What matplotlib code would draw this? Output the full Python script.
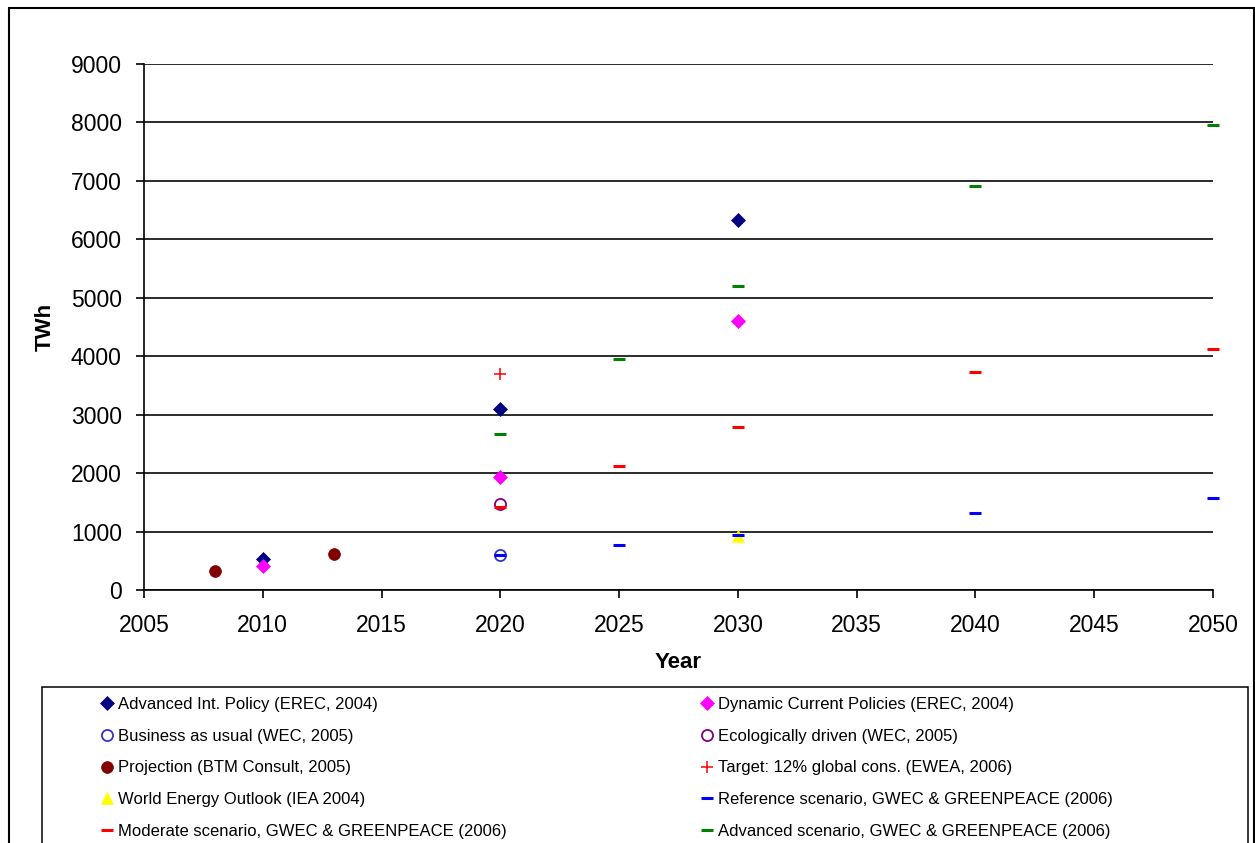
import matplotlib
matplotlib.use("Agg")
import matplotlib.pyplot as plt
from matplotlib.patches import Rectangle

plt.rcParams['font.family'] = ['Liberation Sans', 'DejaVu Sans']

# Wind electricity projections (TWh) by source
adv_int_years = [2010, 2020, 2030]
adv_int_vals = [530, 3100, 6330]

dyn_cur_years = [2010, 2020, 2030]
dyn_cur_vals = [410, 1930, 4600]

bau_years = [2020]
bau_vals = [600]

eco_years = [2020]
eco_vals = [1470]

btm_years = [2008, 2013]
btm_vals = [325, 615]

ewea_years = [2020]
ewea_vals = [3700]

weo_years = [2030]
weo_vals = [925]

ref_years = [2020, 2025, 2030, 2040, 2050]
ref_vals = [600, 770, 940, 1320, 1575]

mod_years = [2020, 2025, 2030, 2040, 2050]
mod_vals = [1420, 2120, 2790, 3730, 4125]

advsc_years = [2020, 2025, 2030, 2040, 2050]
advsc_vals = [2670, 3950, 5200, 6910, 7960]

x_ticks = list(range(2005, 2051, 5))
y_ticks = list(range(0, 9001, 1000))

series = [
    ("Advanced Int. Policy (EREC, 2004)", adv_int_years, adv_int_vals,
     dict(marker='D', ms=7, mfc='#000080', mec='#000080', mew=0.5)),
    ("Dynamic Current Policies (EREC, 2004)", dyn_cur_years, dyn_cur_vals,
     dict(marker='D', ms=7, mfc='#FF00FF', mec='#FF00FF', mew=0.5)),
    ("Business as usual (WEC, 2005)", bau_years, bau_vals,
     dict(marker='o', ms=8, mfc='none', mec='#3333CC', mew=1.3)),
    ("Ecologically driven (WEC, 2005)", eco_years, eco_vals,
     dict(marker='o', ms=8, mfc='none', mec='#800080', mew=1.3)),
    ("Projection (BTM Consult, 2005)", btm_years, btm_vals,
     dict(marker='o', ms=8.5, mfc='#800000', mec='#800000', mew=0.5)),
    ("Target: 12% global cons. (EWEA, 2006)", ewea_years, ewea_vals,
     dict(marker='+', ms=8, mfc='#FF0000', mec='#FF0000', mew=1.1)),
    ("World Energy Outlook (IEA 2004)", weo_years, weo_vals,
     dict(marker='^', ms=8, mfc='#FFFF00', mec='#FFFF00', mew=0.5)),
    ("Reference scenario, GWEC & GREENPEACE (2006)", ref_years, ref_vals,
     dict(marker='_', ms=8, mfc='#0000FF', mec='#0000FF', mew=2.2)),
    ("Moderate scenario, GWEC & GREENPEACE (2006)", mod_years, mod_vals,
     dict(marker='_', ms=8, mfc='#FF0000', mec='#FF0000', mew=2.2)),
    ("Advanced scenario, GWEC & GREENPEACE (2006)", advsc_years, advsc_vals,
     dict(marker='_', ms=8, mfc='#008000', mec='#008000', mew=2.2)),
]

W, H = 1255, 843
fig = plt.figure(figsize=(W / 100, H / 100), dpi=100)
ax = fig.add_axes([144 / W, 1 - 590 / H, (1213 - 144) / W, (590 - 64) / H])

handles = []
for i, (label, xs, ys, st) in enumerate(series):
    ln, = ax.plot(xs, ys, linestyle='none', label=label, clip_on=False,
                  zorder=3 + i, **st)
    handles.append(ln)

ax.set_xlim(2005, 2050)
ax.set_ylim(0, 9000)
ax.set_xticks(x_ticks)
ax.set_yticks(y_ticks)
ax.yaxis.grid(True, color='#1a1a1a', linewidth=1.3)
ax.set_axisbelow(True)
for s in ('top', 'right'):
    ax.spines[s].set_visible(False)
for s in ('left', 'bottom'):
    ax.spines[s].set_linewidth(1.2)
ax.tick_params(axis='both', direction='out', length=6, width=1.2,
               labelsize=16.5)
ax.tick_params(axis='x', pad=11)
ax.tick_params(axis='y', pad=10)

ax.set_xlabel("Year", fontsize=16, fontweight='bold')
ax.xaxis.label.set_va('center')
ax.xaxis.set_label_coords(0.5, (590 - 663) / 526)
ax.set_ylabel("TWh", fontsize=16, fontweight='bold')
ax.yaxis.label.set_va('center')
ax.yaxis.set_label_coords((45 - 144) / 1069, 0.5)

# Outer chart border and legend frame
fig.patches.append(Rectangle((8.5 / W, -0.05), (1254 - 8.5) / W, 1.05 - 8.5 / H,
                             transform=fig.transFigure, fill=False,
                             edgecolor='black', linewidth=1.5))
fig.patches.append(Rectangle((42 / W, -0.05), (1248 - 42) / W, 0.05 + 1 - 687 / H,
                             transform=fig.transFigure, fill=False,
                             edgecolor='black', linewidth=1.1))

col1 = [handles[i] for i in (0, 2, 4, 6, 8)]
col2 = [handles[i] for i in (1, 3, 5, 7, 9)]
leg_kw = dict(loc='upper left', frameon=False, fontsize=12, numpoints=1,
              handlelength=0.6, handletextpad=0.35, labelspacing=1.0,
              borderpad=0, borderaxespad=0)
fig.legend(handles=col1, bbox_to_anchor=(102 / W, 1 - 697 / H), **leg_kw)
fig.legend(handles=col2, bbox_to_anchor=(702 / W, 1 - 697 / H), **leg_kw)

fig.savefig("out.png", dpi=100)
